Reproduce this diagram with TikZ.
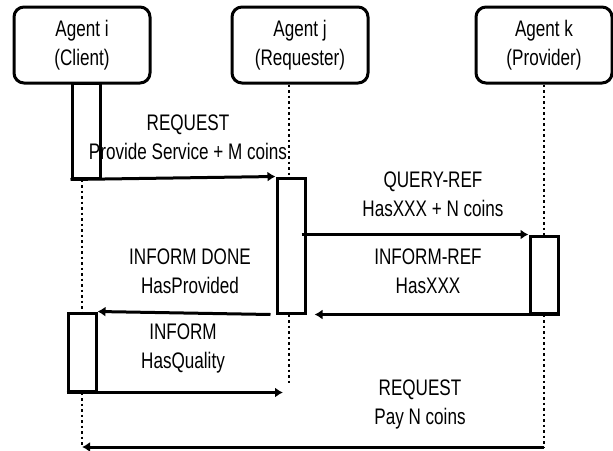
\documentclass[tikz,border=0pt]{standalone}
\usepackage{fontspec}
\setmainfont[FakeStretch=0.76]{Liberation Sans}
\usetikzlibrary{arrows.meta}

\tikzset{
  agent/.style={draw, line width=3pt, rounded corners=10pt,
    minimum width=136pt, minimum height=76pt, align=center},
  activ/.style={draw, line width=3pt, fill=white,
    minimum width=28pt, inner sep=0pt},
  msg/.style={line width=3pt, -{Latex[length=8pt,width=10pt]}},
  life/.style={line width=2.5pt, dash pattern=on 2.5pt off 3pt},
  lbl/.style={align=center},
}

\begin{document}
\begin{tikzpicture}[x=1pt, y=-1pt, font=\fontsize{22.5}{29}\selectfont]
                \useasboundingbox (0,0) rectangle (613,450);

                % Les agents
                \node[agent] (ai) at (82,45) {Agent i\\(Client)};
                \node[agent] (aj) at (300,45) {Agent j\\(Requester)};
                \node[agent] (ak) at (544,45) {Agent k\\(Provider)};

                % Les boites d'activation
                \node[activ, minimum height=95pt] (acti1) at (86,130.5) {};
                \node[activ, minimum height=135pt] (actj) at (291,245.5) {};
                \node[activ, minimum height=77pt] (actk) at (544,274.5) {};
                \node[activ, minimum height=78pt] (acti2) at (82,352) {};

                % Les fins des lignes de vie
                \coordinate (endi) at (82,447);
                \coordinate (endj) at (289,385);
                \coordinate (endk) at (544,447);

                % Les lignes de vie en pointillés
                \draw[life] (acti1.south -| acti2) -- (acti2.north);
                \draw[life] (acti2.south) -- (endi);
                \draw[life] (aj.south -| endj) -- (actj.north -| endj);
                \draw[life] (actj.south -| endj) -- (endj);
                \draw[life] (ak.south) -- (actk.north);
                \draw[life] (actk.south) -- (endk);

                % Les messages
                \draw[msg] (acti1.south west) -- (actj.north west);
                \draw[msg] ([xshift=-5pt]actj.east |- actk.north) -- (actk.north west);
                \draw[msg] (actk.south east) -- ([xshift=8pt]actj.south east);
                \draw[msg] ([xshift=-5pt]actj.south west) -- (acti2.north east);
                \draw[msg] (acti2.south west) -- ([xshift=-6pt]endj |- acti2.south);
                \draw[msg] (endk) -- (endi);

                % Les étiquettes
                \node[lbl] (lreq) at (188,137) {REQUEST\\Provide Service + M coins};
                \node[lbl] (lquery) at (433,194) {QUERY-REF\\HasXXX + N coins};
                \node[lbl] (linfref) at (428,271) {INFORM-REF\\HasXXX};
                \node[lbl] (ldone) at (190,271) {INFORM DONE\\HasProvided};
                \node[lbl] (linform) at (183,348) {INFORM\\HasQuality};
                \node[lbl] (lpay) at (420,404) {REQUEST\\Pay N coins};
\end{tikzpicture}
\end{document}
